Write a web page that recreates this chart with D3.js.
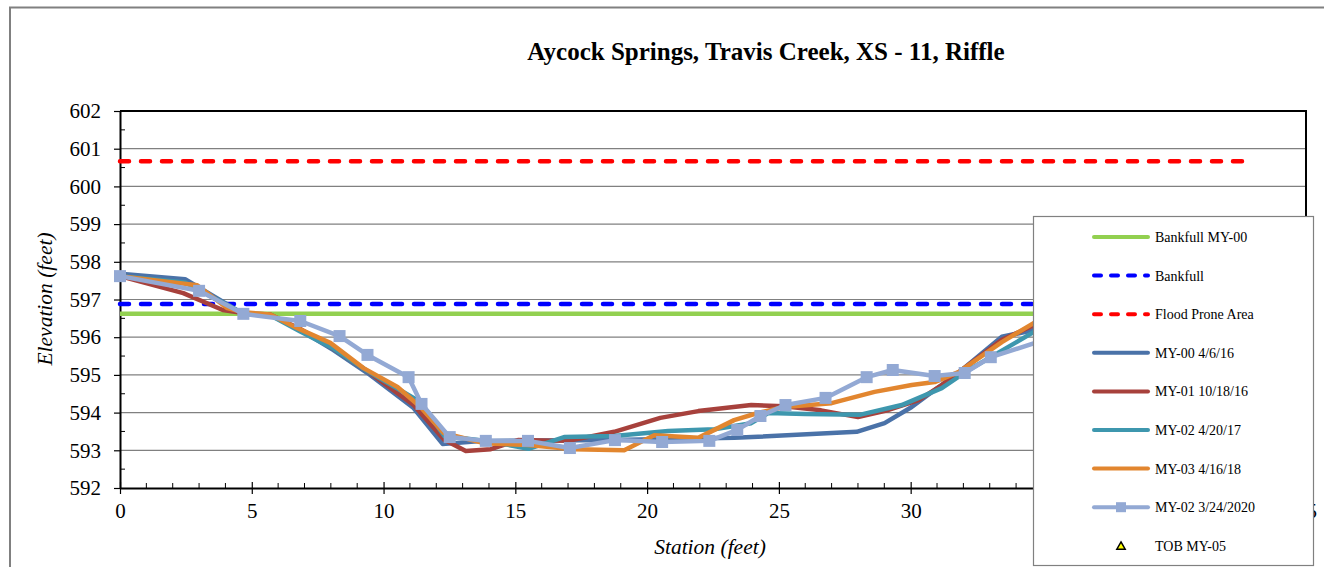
<!DOCTYPE html>
<html>
<head>
<meta charset="utf-8">
<script src="https://cdn.jsdelivr.net/npm/d3@7"></script>
<style>
  body { margin: 0; background: #fff; }
  svg text { font-family: 'Liberation Serif', 'DejaVu Serif', serif; }
</style>
</head>
<body>
<svg id="chart" width="1324" height="567"></svg>
<script>
// cross section survey data, station (ft) / elevation (ft)
var my00St = [0, 2.47, 4.68, 5.70, 6.84, 8.10, 9.39, 11.14, 12.24, 13.80, 18.75, 23.31, 27.95, 29.01, 30.04, 31.94, 33.46, 34.68, 36.5];
var my00El = [597.68, 597.54, 596.62, 596.59, 596.19, 595.66, 595.05, 594.12, 593.17, 593.25, 593.27, 593.33, 593.49, 593.72, 594.15, 595.13, 596.01, 596.19, 596.6];

var my01St = [0, 2.4, 3.9, 4.68, 5.7, 6.84, 8.1, 9.39, 11.14, 12.3, 13.12, 14.07, 15.1, 17.0, 18.75, 20.5, 21.94, 23.95, 25.2, 26.6, 28.0, 29.16, 30.3, 31.18, 33.46, 34.68, 36.5];
var my01El = [597.62, 597.17, 596.72, 596.64, 596.6, 596.22, 595.7, 595.1, 594.2, 593.28, 592.98, 593.03, 593.27, 593.25, 593.49, 593.86, 594.04, 594.2, 594.17, 594.06, 593.88, 594.07, 594.33, 594.73, 595.93, 596.32, 596.8];

var my02St = [0, 2.47, 4.68, 5.7, 6.84, 8.1, 9.39, 11.4, 12.3, 13.9, 15.5, 16.85, 18.75, 20.8, 22.55, 23.95, 24.6, 26.0, 28.06, 29.66, 31.18, 32.2, 34.68, 36.5];
var my02El = [597.62, 597.45, 596.62, 596.58, 596.15, 595.7, 595.1, 594.28, 593.38, 593.25, 593.04, 593.35, 593.38, 593.51, 593.56, 593.72, 593.99, 593.96, 593.94, 594.2, 594.65, 595.13, 596.14, 596.6];

var my03St = [0, 2.93, 4.07, 4.68, 5.7, 6.73, 7.98, 9.24, 10.53, 11.4, 12.28, 13.8, 15.48, 17.22, 19.13, 20.27, 21.94, 23.3, 24.2, 25.2, 27.0, 28.63, 30.04, 30.91, 31.83, 33.46, 34.68, 36.5];
var my03El = [597.62, 597.38, 596.77, 596.66, 596.6, 596.24, 595.85, 595.18, 594.68, 594.15, 593.46, 593.19, 593.14, 593.03, 593.0, 593.4, 593.33, 593.8, 593.99, 594.15, 594.25, 594.55, 594.73, 594.81, 595.08, 595.87, 596.38, 596.9];

var my20St = [0, 3.0, 4.68, 6.84, 8.33, 9.39, 10.95, 11.44, 12.51, 13.88, 15.48, 17.07, 18.78, 20.57, 22.36, 23.42, 24.30, 25.25, 26.77, 28.33, 29.32, 30.91, 32.05, 33.04, 35.6];
var my20El = [597.62, 597.23, 596.62, 596.43, 596.03, 595.53, 594.94, 594.23, 593.35, 593.25, 593.25, 593.06, 593.27, 593.22, 593.25, 593.54, 593.91, 594.20, 594.39, 594.94, 595.13, 594.97, 595.05, 595.47, 596.05];

// reference elevations
var bankfullMy00St = [0, 45];
var bankfullMy00El = [596.62, 596.62];
var bankfullSt = [0, 45];
var bankfullEl = [596.88, 596.88];
var floodSt = [0, 42.6];
var floodEl = [600.67, 600.67];

var xTicks = [0, 5, 10, 15, 20, 25, 30, 35, 40, 45];
var yTicks = [592, 593, 594, 595, 596, 597, 598, 599, 600, 601, 602];

var legendNames = ["Bankfull MY-00", "Bankfull", "Flood Prone Area", "MY-00 4/6/16", "MY-01 10/18/16",
                   "MY-02 4/20/17", "MY-03 4/16/18", "MY-02 3/24/2020", "TOB MY-05"];

var serif = "'Liberation Serif', 'DejaVu Serif', serif";
var svg = d3.select("#chart");
var pLeft = 120, pTop = 111, pRight = 1306, pBottom = 488;

var x = d3.scaleLinear().domain([0, 45]).range([pLeft, pRight]);
var y = d3.scaleLinear().domain([592, 602]).range([pBottom, pTop]);

// outer frame
svg.append("path")
    .attr("d", "M10,567 L10,7.5 L1324,7.5")
    .attr("fill", "none").attr("stroke", "#808080").attr("stroke-width", 2);

svg.append("text")
    .attr("x", 766).attr("y", 60)
    .attr("text-anchor", "middle")
    .style("font-family", serif)
    .attr("font-size", 25).attr("font-weight", "bold")
    .text("Aycock Springs, Travis Creek, XS - 11, Riffle");

// gridlines
svg.append("g").selectAll("line").data(yTicks.slice(1, -1)).enter().append("line")
    .attr("x1", pLeft).attr("x2", pRight)
    .attr("y1", function (d) { return y(d); }).attr("y2", function (d) { return y(d); })
    .attr("stroke", "#808080").attr("stroke-width", 1.2);

// minor ticks (inside)
var yMinor = d3.range(592.5, 602, 1);
svg.append("g").selectAll("line").data(yMinor).enter().append("line")
    .attr("x1", pLeft).attr("x2", pLeft + 5)
    .attr("y1", function (d) { return y(d); }).attr("y2", function (d) { return y(d); })
    .attr("stroke", "#000").attr("stroke-width", 1);
var xMinor = d3.range(1, 45, 1).filter(function (d) { return d % 5 !== 0; });
svg.append("g").selectAll("line").data(xMinor).enter().append("line")
    .attr("x1", function (d) { return x(d); }).attr("x2", function (d) { return x(d); })
    .attr("y1", pBottom).attr("y2", pBottom - 5)
    .attr("stroke", "#000").attr("stroke-width", 1);

// axes
var yAxis = svg.append("g")
    .attr("transform", "translate(" + pLeft + ",0)")
    .call(d3.axisLeft(y).tickValues(yTicks).tickSizeInner(6).tickSizeOuter(0).tickPadding(13));
var xAxis = svg.append("g")
    .attr("transform", "translate(0," + pBottom + ")")
    .call(d3.axisBottom(x).tickValues(xTicks).tickSizeInner(6).tickSizeOuter(0).tickPadding(9));
xAxis.selectAll(".tick line").attr("y1", -6);
[yAxis, xAxis].forEach(function (a) {
    a.attr("font-family", null).attr("font-size", null);
    a.select(".domain").attr("stroke", "#000").attr("stroke-width", 2);
    a.selectAll(".tick line").attr("stroke", "#000").attr("stroke-width", 1.2);
    a.selectAll(".tick text").style("font-size", "21px").attr("fill", "#000")
        .style("font-family", serif);
});

// top / right frame of plot
svg.append("path")
    .attr("d", "M" + pLeft + "," + pTop + " L" + pRight + "," + pTop + " L" + pRight + "," + pBottom)
    .attr("fill", "none").attr("stroke", "#000").attr("stroke-width", 2);

svg.append("text")
    .attr("x", 710).attr("y", 554)
    .attr("text-anchor", "middle").attr("font-size", 21.5).attr("font-style", "italic")
    .style("font-family", serif)
    .text("Station (feet)");
svg.append("text")
    .attr("transform", "translate(52,299) rotate(-90)")
    .attr("text-anchor", "middle").attr("font-size", 21.5).attr("font-style", "italic")
    .style("font-family", serif)
    .text("Elevation (feet)");

var line = d3.line()
    .x(function (d) { return x(d[0]); })
    .y(function (d) { return y(d[1]); });

function zip(a, b) {
    return a.map(function (v, i) { return [v, b[i]]; });
}

function drawLine(st, el, color, dash) {
    svg.append("path")
        .datum(zip(st, el))
        .attr("d", line)
        .attr("fill", "none")
        .attr("stroke", color)
        .attr("stroke-width", 4.5)
        .attr("stroke-linejoin", "round")
        .attr("stroke-linecap", dash ? "round" : "butt")
        .attr("stroke-dasharray", dash || null);
}

drawLine(bankfullMy00St, bankfullMy00El, "#92D050");
drawLine(bankfullSt, bankfullEl, "#0000FF", "9 12");
drawLine(floodSt, floodEl, "#FF0000", "9 12");
drawLine(my00St, my00El, "#4A72A8");
drawLine(my01St, my01El, "#A7413C");
drawLine(my02St, my02El, "#3E97AE");
drawLine(my03St, my03El, "#E2862F");
drawLine(my20St, my20El, "#93A9D4");

svg.append("g").selectAll("rect").data(zip(my20St, my20El)).enter().append("rect")
    .attr("x", function (d) { return x(d[0]) - 6; })
    .attr("y", function (d) { return y(d[1]) - 6; })
    .attr("width", 12).attr("height", 12)
    .attr("fill", "#93A9D4");

// legend
var lg = svg.append("g");
lg.append("rect")
    .attr("x", 1033.5).attr("y", 216.5).attr("width", 280).attr("height", 349)
    .attr("fill", "#fff").attr("stroke", "#808080").attr("stroke-width", 1.2);

var legendStyle = [
    { c: "#92D050" }, { c: "#0000FF", dash: "9 9" }, { c: "#FF0000", dash: "9 9" },
    { c: "#4A72A8" }, { c: "#A7413C" }, { c: "#3E97AE" }, { c: "#E2862F" },
    { c: "#93A9D4", marker: true }, { tri: true }
];

legendNames.forEach(function (name, i) {
    var ly = 237 + i * 38.6;
    var s = legendStyle[i];
    if (s.tri) {
        lg.append("path")
            .attr("d", d3.symbol().type(d3.symbolTriangle).size(30))
            .attr("transform", "translate(1121," + (ly + 1) + ")")
            .attr("fill", "#FFFF00").attr("stroke", "#000").attr("stroke-width", 1.5);
    } else {
        lg.append("line")
            .attr("x1", 1094).attr("x2", 1148).attr("y1", ly).attr("y2", ly)
            .attr("stroke", s.c).attr("stroke-width", 4)
            .attr("stroke-linecap", "round")
            .attr("stroke-dasharray", s.dash ? "7 10" : null);
        if (s.marker) {
            lg.append("rect")
                .attr("x", 1116).attr("y", ly - 5).attr("width", 10).attr("height", 10)
                .attr("fill", s.c);
        }
    }
    lg.append("text")
        .attr("x", 1155).attr("y", ly + 5)
        .attr("font-size", 14)
        .style("font-family", serif)
        .text(name);
});
</script>
</body>
</html>
